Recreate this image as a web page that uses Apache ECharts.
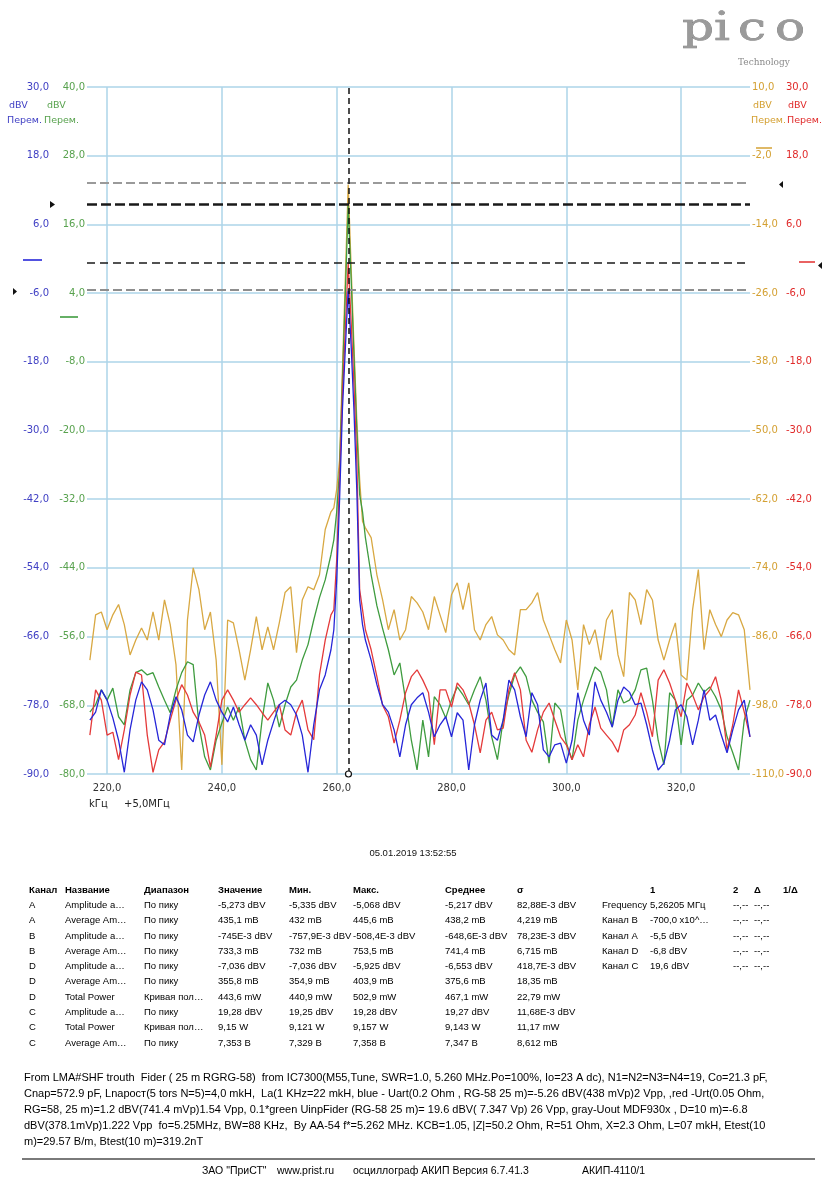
<!DOCTYPE html>
<html>
<head>
<meta charset="utf-8">
<script src="https://cdn.jsdelivr.net/npm/echarts@6/dist/echarts.min.js"></script>
<style>
  html, body { margin: 0; padding: 0; background: #fff; }
  #chart { width: 825px; height: 1178px; }
</style>
</head>
<body>
<div id="chart"></div>
<script>
// Spectrum frequency points, kHz above 5,0 MHz (denser around the carrier)
const freqKHz = [
  217,218,219,220,221,222,223,224,225,226,
  227,228,229,230,231,232,233,234,235,236,
  237,238,239,240,241,242,243,244,245,246,
  247,248,249,250,251,252,253,254,255,256,
  257,258,259,
  259.5,260,260.5,261,261.5,262,262.5,263,263.5,264,264.5,265,
  266,267,268,269,270,271,272,273,274,275,
  276,277,278,279,280,281,282,283,284,285,
  286,287,288,289,290,291,292,293,294,295,
  296,297,298,299,300,301,302,303,304,305,
  306,307,308,309,310,311,312,313,314,315,
  316,317,318,319,320,321,322,323,324,325,
  326,327,328,329,330,331,332
];

// Channel A (blue), dBV
const chA = [
  -80.6,-79.2,-75.3,-77.1,-80.2,-84.1,-89.7,-82.3,-77.1,-73.9,
  -75.3,-78.8,-84.1,-84.9,-79.7,-76.5,-78.8,-83.2,-84.4,-79.7,
  -76.2,-73.9,-77.1,-79.2,-80.9,-78.3,-81.4,-84.1,-81.4,-83.2,
  -88.4,-84.1,-80.9,-77.9,-77.1,-77.9,-79.7,-83.2,-89.7,-81.4,
  -75.3,-72.7,-68.3,
  -64.8,-56.1,-42.1,-26.3,-15.8,-5.27,-14.9,-26.3,-40.3,-59.6,-63.9,-66.6,
  -70.1,-74.4,-77.9,-79.2,-82.3,-87.0,-81.4,-77.9,-76.7,-75.8,
  -79.2,-83.5,-81.4,-80.0,-83.5,-79.3,-80.6,-89.3,-81.4,-77.1,
  -74.1,-83.2,-84.1,-80.6,-73.6,-75.3,-80.0,-83.5,-75.8,-77.9,
  -85.8,-87.0,-84.9,-84.6,-88.1,-84.1,-75.8,-80.6,-83.2,-73.9,
  -77.1,-79.2,-81.8,-77.1,-74.8,-75.7,-77.9,-77.6,-81.4,-85.8,
  -89.3,-88.1,-84.1,-78.8,-77.9,-80.0,-84.9,-80.6,-75.3,-80.6,
  -79.7,-83.2,-86.3,-82.3,-78.8,-77.1,-83.5
];

// Channel B (red), dBV
const chB = [
  -83.2,-75.3,-77.1,-83.2,-82.7,-87.5,-82.3,-76.2,-72.2,-72.7,
  -83.2,-89.7,-85.8,-84.4,-80.6,-77.1,-74.4,-76.2,-79.2,-80.9,
  -83.2,-88.8,-83.2,-77.1,-75.3,-77.1,-79.2,-77.9,-76.7,-77.9,
  -79.3,-80.6,-79.2,-77.9,-82.3,-83.2,-79.2,-77.1,-82.3,-84.0,
  -72.7,-66.6,-62.2,
  -61.3,-52.6,-38.6,-23.7,-12.3,-0.75,-10.6,-21.9,-35.1,-57.8,-61.3,-64.8,
  -68.3,-73.0,-78.0,-80.0,-84.6,-80.6,-75.8,-73.0,-71.8,-73.6,
  -75.8,-84.9,-75.3,-75.3,-78.3,-74.1,-75.3,-77.6,-81.4,-86.3,
  -80.6,-79.2,-82.3,-82.0,-75.3,-72.3,-75.3,-84.1,-86.2,-82.3,
  -79.2,-77.6,-80.6,-83.5,-84.9,-87.5,-84.9,-87.0,-81.4,-78.3,
  -82.0,-83.2,-84.4,-86.2,-82.3,-81.4,-79.7,-75.8,-79.2,-83.5,
  -73.6,-71.8,-74.1,-77.1,-80.0,-74.1,-76.2,-78.8,-76.5,-75.3,
  -73.0,-77.1,-85.8,-81.4,-75.3,-79.2,-83.5
];

// Channel C (green), dBV
const chC = [
  -69.2,-67.9,-65.3,-67.1,-65.0,-70.0,-71.4,-65.3,-62.3,-61.8,
  -62.7,-62.3,-64.8,-67.1,-69.3,-65.3,-62.3,-60.4,-60.9,-71.4,
  -77.0,-79.3,-74.1,-71.1,-68.3,-70.6,-68.3,-74.1,-77.5,-79.3,
  -70.6,-64.1,-67.1,-71.8,-67.9,-64.8,-63.6,-60.1,-57.4,-53.1,
  -49.2,-46.1,-41.7,
  -39.1,-34.2,-26.8,-11.1,3.8,19.28,6.8,-6.7,-19.8,-31.2,-34.2,-38.7,
  -45.2,-50.6,-54.6,-58.3,-62.7,-60.6,-67.1,-74.1,-79.3,-70.6,
  -77.0,-66.5,-67.9,-70.2,-67.1,-64.8,-66.2,-67.9,-65.3,-63.0,
  -67.1,-73.5,-77.5,-70.6,-66.2,-62.7,-61.3,-63.0,-67.1,-69.2,
  -70.9,-78.1,-67.6,-68.8,-74.6,-77.5,-70.6,-67.1,-64.1,-61.3,
  -62.2,-65.3,-71.8,-65.3,-67.6,-67.1,-65.3,-61.8,-61.5,-67.1,
  -74.1,-78.4,-65.8,-67.1,-74.9,-67.1,-66.2,-64.1,-65.7,-64.8,
  -66.5,-68.8,-73.5,-76.3,-79.3,-70.6,-67.1
];

// Channel D (gold), dBV
const chD = [
  -90.1,-82.2,-81.7,-84.8,-82.2,-80.4,-83.9,-89.2,-86.6,-84.5,
  -86.6,-81.7,-86.6,-79.6,-83.9,-90.9,-109.3,-83.1,-74.0,-77.8,
  -84.8,-81.7,-90.1,-108.4,-83.1,-83.6,-88.3,-93.6,-88.3,-82.5,
  -88.3,-84.3,-88.3,-83.6,-78.3,-77.3,-88.8,-79.6,-77.3,-77.8,
  -75.2,-67.3,-64.2,
  -63.5,-60.3,-55.1,-39.3,-23.6,-7.04,-21.0,-35.0,-48.1,-58.6,-65.9,-67.0,
  -68.7,-75.2,-79.6,-84.8,-81.3,-86.6,-84.8,-79.0,-80.1,-81.7,
  -84.8,-79.0,-82.2,-85.3,-78.7,-76.6,-81.3,-76.6,-84.8,-86.6,
  -83.9,-82.5,-85.7,-86.6,-88.3,-89.2,-81.3,-81.3,-80.1,-78.3,
  -83.1,-85.7,-88.3,-90.6,-83.1,-86.6,-95.3,-83.9,-87.4,-84.8,
  -90.1,-83.1,-81.3,-89.2,-93.0,-78.3,-79.6,-83.9,-77.8,-79.6,
  -86.6,-90.1,-86.6,-83.6,-92.7,-93.6,-81.3,-74.3,-88.3,-81.3,
  -83.9,-86.0,-83.1,-81.8,-82.2,-84.8,-95.3
];

// Axis ticks
const freqTicks = [220, 240, 260, 280, 300, 320];
const ticksA = [-90, -78, -66, -54, -42, -30, -18, -6, 6, 18, 30];
const ticksC = [-80, -68, -56, -44, -32, -20, -8, 4, 16, 28, 40];
const ticksD = [-110, -98, -86, -74, -62, -50, -38, -26, -14, -2, 10];
const ticksB = [-90, -78, -66, -54, -42, -30, -18, -6, 6, 18, 30];

// Cursor and signal rulers
const cursorKHz = 262.05;
const rulerA = -5.5;
const rulerB = -0.7;
const rulerC = 19.6;
const rulerD = -6.8;

// Measurement table
const tableHeader = ['Канал', 'Название', 'Диапазон', 'Значение', 'Мин.', 'Макс.', 'Среднее', 'σ', '', '1', '2', 'Δ', '1/Δ'];
const tableRows = [
  ['A', 'Amplitude a…', 'По пику', '-5,273 dBV', '-5,335 dBV', '-5,068 dBV', '-5,217 dBV', '82,88E-3 dBV', 'Frequency', '5,26205 MГц', '--,--', '--,--', ''],
  ['A', 'Average Am…', 'По пику', '435,1 mB', '432 mB', '445,6 mB', '438,2 mB', '4,219 mB', 'Канал B', '-700,0 x10^…', '--,--', '--,--', ''],
  ['B', 'Amplitude a…', 'По пику', '-745E-3 dBV', '-757,9E-3 dBV', '-508,4E-3 dBV', '-648,6E-3 dBV', '78,23E-3 dBV', 'Канал A', '-5,5 dBV', '--,--', '--,--', ''],
  ['B', 'Average Am…', 'По пику', '733,3 mB', '732 mB', '753,5 mB', '741,4 mB', '6,715 mB', 'Канал D', '-6,8 dBV', '--,--', '--,--', ''],
  ['D', 'Amplitude a…', 'По пику', '-7,036 dBV', '-7,036 dBV', '-5,925 dBV', '-6,553 dBV', '418,7E-3 dBV', 'Канал C', '19,6 dBV', '--,--', '--,--', ''],
  ['D', 'Average Am…', 'По пику', '355,8 mB', '354,9 mB', '403,9 mB', '375,6 mB', '18,35 mB', '', '', '', '', ''],
  ['D', 'Total Power', 'Кривая пол…', '443,6 mW', '440,9 mW', '502,9 mW', '467,1 mW', '22,79 mW', '', '', '', '', ''],
  ['C', 'Amplitude a…', 'По пику', '19,28 dBV', '19,25 dBV', '19,28 dBV', '19,27 dBV', '11,68E-3 dBV', '', '', '', '', ''],
  ['C', 'Total Power', 'Кривая пол…', '9,15 W', '9,121 W', '9,157 W', '9,143 W', '11,17 mW', '', '', '', '', ''],
  ['C', 'Average Am…', 'По пику', '7,353 B', '7,329 B', '7,358 B', '7,347 B', '8,612 mB', '', '', '', '', '']
];

const timestamp = '05.01.2019 13:52:55';
const notes = [
  'From LMA#SHF trouth  Fider ( 25 m RGRG-58)  from IC7300(M55,Tune, SWR=1.0, 5.260 MHz.Po=100%, Io=23 A dc), N1=N2=N3=N4=19, Co=21.3 pF,',
  'Cnap=572.9 pF, Lnapocт(5 tors N=5)=4,0 mkH,  La(1 KHz=22 mkH, blue - Uart(0.2 Ohm , RG-58 25 m)=-5.26 dBV(438 mVp)2 Vpp, ,red -Urt(0.05 Ohm,',
  'RG=58, 25 m)=1.2 dBV(741.4 mVp)1.54 Vpp, 0.1*green UinpFider (RG-58 25 m)= 19.6 dBV( 7.347 Vp) 26 Vpp, gray-Uout MDF930x , D=10 m)=-6.8',
  'dBV(378.1mVp)1.222 Vpp  fo=5.25MHz, BW=88 KHz,  By AA-54 f*=5.262 MHz. KCB=1.05, |Z|=50.2 Ohm, R=51 Ohm, X=2.3 Ohm, L=07 mkH, Etest(10',
  'm)=29.57 B/m, Btest(10 m)=319.2nT'
];
const footerParts = ['ЗАО "ПриСТ"', 'www.prist.ru', 'осциллограф АКИП Версия 6.7.41.3', 'АКИП-4110/1'];

// ---------------------------------------------------------------
const COL = {
  A: '#2626d8', B: '#e43a3a', C: '#3f9c3f', D: '#d8a842',
  lblA: '#4040c4', lblB: '#e02a2a', lblC: '#58a24e', lblD: '#d4a032',
  grid: '#acd5e8'
};
const fmt1 = v => v.toFixed(1).replace('.', ',');
const pairs = vals => freqKHz.map((f, i) => [f, vals[i]]);
const AX_FONT = 'DejaVu Sans';

function yAxisDef(min, max, ticks, color, position, offset, withGrid) {
  return {
    type: 'value', min: min, max: max, position: position, offset: offset,
    axisLine: { show: false },
    axisTick: { show: false, customValues: ticks },
    axisLabel: { customValues: ticks, formatter: fmt1, color: color, fontSize: 10,
                 fontFamily: AX_FONT, margin: 2 },
    splitLine: { show: withGrid, lineStyle: { color: COL.grid, width: 1.5 } }
  };
}

function ruler(value, color, width, dash) {
  return { yAxis: value, lineStyle: { color: color, width: width, type: dash } };
}

function traceSeries(name, vals, axisIdx, color, marks) {
  return {
    name: name, type: 'line', data: pairs(vals), yAxisIndex: axisIdx,
    showSymbol: false, symbol: 'none',
    lineStyle: { color: color, width: 1.3 },
    itemStyle: { color: color },
    clip: true,
    markLine: {
      silent: true, symbol: 'none', animation: false,
      label: { show: false },
      data: marks
    }
  };
}

// --- text and decoration drawn around the plot ---
const g = [];
function txt(x, y, s, o) {
  o = o || {};
  g.push({
    type: 'text', x: x, y: y, z: 10,
    style: {
      text: s,
      fill: o.fill || '#111',
      font: (o.weight || 'normal') + ' ' + (o.size || 10) + 'px ' + (o.family || 'Liberation Sans'),
      textAlign: o.align || 'left',
      textVerticalAlign: 'middle'
    }
  });
}

// axis unit captions
txt(9, 106, 'dBV', { fill: COL.lblA, size: 9.5, family: AX_FONT });
txt(47, 106, 'dBV', { fill: COL.lblC, size: 9.5, family: AX_FONT });
txt(7, 121, 'Перем.', { fill: COL.lblA, size: 9.5, family: AX_FONT });
txt(44, 121, 'Перем.', { fill: COL.lblC, size: 9.5, family: AX_FONT });
txt(753, 106, 'dBV', { fill: COL.lblD, size: 9.5, family: AX_FONT });
txt(788, 106, 'dBV', { fill: COL.lblB, size: 9.5, family: AX_FONT });
txt(751, 121, 'Перем.', { fill: COL.lblD, size: 9.5, family: AX_FONT });
txt(787, 121, 'Перем.', { fill: COL.lblB, size: 9.5, family: AX_FONT });

// frequency axis units
txt(89, 804, 'kГц', { fill: '#222', size: 10, family: AX_FONT });
txt(124, 804, '+5,0MГц', { fill: '#222', size: 10, family: AX_FONT });

// channel offset marks and ruler handles
function dash(x1, x2, y, color) {
  g.push({ type: 'line', z: 10, shape: { x1: x1, y1: y, x2: x2, y2: y },
           style: { stroke: color, lineWidth: 1.6 } });
}
function tri(pts) {
  g.push({ type: 'polygon', z: 10, shape: { points: pts }, style: { fill: '#111' } });
}
dash(23, 42, 260, COL.A);
dash(60, 78, 317, COL.C);
dash(756, 772, 148, COL.D);
dash(799, 815, 262, COL.B);
tri([[50, 201], [55, 204.5], [50, 208]]);
tri([[13, 288], [17, 291.5], [13, 295]]);
tri([[783, 181], [779, 184.5], [783, 188]]);
tri([[822, 262], [818, 265.5], [822, 269]]);

// logo
const logoLetters = [['p', 682], ['i', 714], ['c', 738], ['o', 775]];
logoLetters.forEach(function (l) {
  g.push({ type: 'text', x: l[1], y: 30, z: 10, scaleX: 1.25,
    style: { text: l[0], fill: '#9a9a9a', stroke: '#747474', lineWidth: 0.6,
             font: 'normal 40px "DejaVu Serif"', textVerticalAlign: 'middle' } });
});
txt(738, 63, 'Technology', { fill: '#8a8a8a', size: 9, family: 'DejaVu Serif' });

// timestamp
txt(413, 853, timestamp, { align: 'center', size: 9.5 });

// measurement table
const colX = [29, 65, 144, 218, 289, 353, 445, 517, 602, 650, 733, 754, 783];
const headY = 890, rowStep = 15.3;
tableHeader.forEach(function (h, c) {
  if (h) txt(colX[c], headY, h, { weight: 'bold', size: 9.5, fill: '#000' });
});
tableRows.forEach(function (row, r) {
  row.forEach(function (cell, c) {
    if (cell) txt(colX[c], headY + rowStep * (r + 1), cell, { size: 9.5, fill: '#000' });
  });
});

// notes block
notes.forEach(function (line, i) {
  txt(24, 1078 + i * 16, line, { size: 11, fill: '#000' });
});
g.push({ type: 'line', z: 10, shape: { x1: 22, y1: 1159, x2: 815, y2: 1159 },
         style: { stroke: '#7a7a7a', lineWidth: 2 } });
const footX = [202, 277, 353, 582];
footerParts.forEach(function (s, i) { txt(footX[i], 1171, s, { size: 10.5, fill: '#000' }); });

// ---------------------------------------------------------------
const option = {
  animation: false,
  backgroundColor: '#ffffff',
  grid: { left: 87, right: 75, top: 87, bottom: 404, containLabel: false },
  xAxis: {
    type: 'value', min: 216.5, max: 332,
    axisLine: { show: false },
    axisTick: { show: false, customValues: freqTicks },
    axisLabel: { customValues: freqTicks, formatter: fmt1, color: '#333', fontSize: 10,
                 fontFamily: AX_FONT, margin: 9 },
    splitLine: { show: true, lineStyle: { color: COL.grid, width: 1.5 } }
  },
  yAxis: [
    yAxisDef(-90, 30, ticksA, COL.lblA, 'left', 36, true),
    yAxisDef(-80, 40, ticksC, COL.lblC, 'left', 0, false),
    yAxisDef(-110, 10, ticksD, COL.lblD, 'right', 0, false),
    yAxisDef(-90, 30, ticksB, COL.lblB, 'right', 34, false)
  ],
  series: [
    traceSeries('D', chD, 2, COL.D, [ruler(rulerD, '#9a9a9a', 2, [9, 4])]),
    traceSeries('C', chC, 1, COL.C, [ruler(rulerC, '#1a1a1a', 2.5, [10, 4])]),
    traceSeries('B', chB, 3, COL.B, [ruler(rulerB, '#1a1a1a', 1.5, [8, 5])]),
    Object.assign(
      traceSeries('A', chA, 0, COL.A, [
        ruler(rulerA, '#8e8e8e', 2, [9, 4]),
        { xAxis: cursorKHz, lineStyle: { color: '#111', width: 1.5, type: [6, 4] } }
      ]),
      {
        // cursor handle on the bottom edge
        markPoint: {
          silent: true, animation: false,
          symbol: 'circle', symbolSize: 6,
          itemStyle: { color: '#ffffff', borderColor: '#111', borderWidth: 1.2 },
          label: { show: false },
          data: [{ coord: [cursorKHz, -90] }]
        }
      }
    )
  ],
  graphic: { elements: g }
};

const chart = echarts.init(document.getElementById('chart'));
chart.setOption(option);
</script>
</body>
</html>
